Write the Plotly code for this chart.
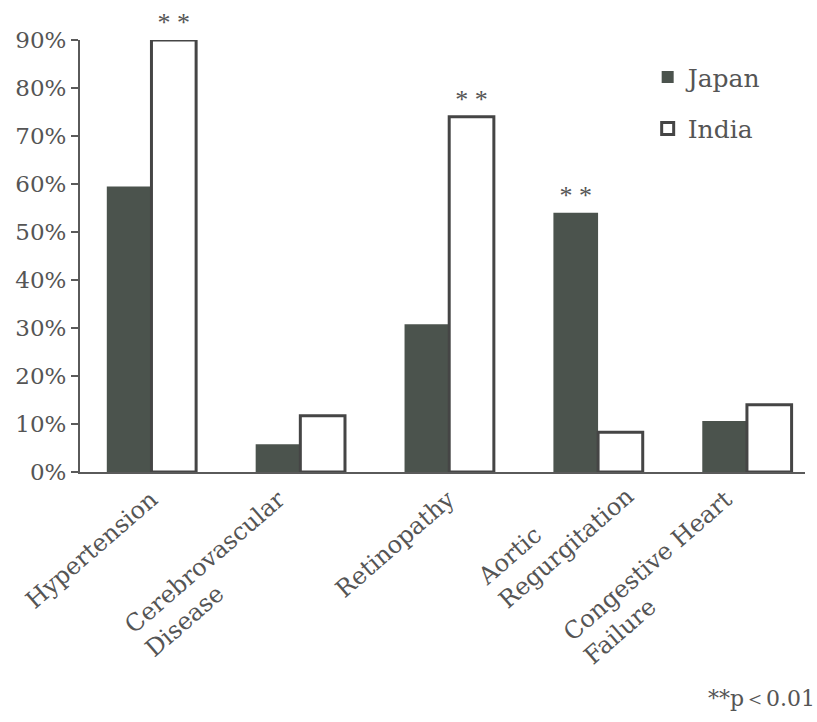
import plotly.graph_objects as go

# Complication rates by country
categories = ["Hypertension", "Cerebrovascular<br>Disease", "Retinopathy",
              "Aortic<br>Regurgitation", "Congestive Heart<br>Failure"]
japan = [59.5, 5.8, 30.8, 54.0, 10.6]
india = [90.0, 11.7, 74.0, 8.3, 14.0]

# significance markers drawn above the bars
japan_sig = ["", "", "", "* *", ""]
india_sig = ["* *", "", "* *", "", ""]

y_ticks = [0, 10, 20, 30, 40, 50, 60, 70, 80, 90]
y_ticktext = [f"{v}%" for v in y_ticks]

SERIF = "DejaVu Serif"
TEXT_GREY = "#555555"
AXIS_GREY = "#5a5a5a"
JAPAN_FILL = "#4b534d"
INDIA_LINE = "#454545"

# extra nudge (px) for labels that sit further along the slant
label_nudge = {3: (30, 26)}

fig = go.Figure()
fig.add_trace(go.Bar(
    x=categories, y=japan, name="Japan",
    marker=dict(color=JAPAN_FILL, line=dict(width=0)),
    text=japan_sig, textposition="outside", cliponaxis=False,
    constraintext="none",
    textfont=dict(family="Liberation Serif", size=26, color=TEXT_GREY),
    legendgroup="jp",
))
fig.add_trace(go.Bar(
    x=categories, y=india, name="India",
    marker=dict(color="white", line=dict(color=INDIA_LINE, width=3)),
    text=india_sig, textposition="outside", cliponaxis=False,
    constraintext="none",
    textfont=dict(family="Liberation Serif", size=26, color=TEXT_GREY),
    legendgroup="in",
))

# rotated category labels, left-aligned within each block
for i, label in enumerate(categories):
    dx, dy = label_nudge.get(i, (0, 0))
    fig.add_annotation(
        x=i, xref="x", y=0, yref="paper",
        text=label, showarrow=False, textangle=-41, align="left",
        xanchor="right", yanchor="top", xshift=14 + dx, yshift=-10 + dy,
        font=dict(family=SERIF, size=24, color=TEXT_GREY),
    )

fig.add_annotation(
    x=1, xref="paper", y=0, yref="paper",
    text="**p＜0.01", showarrow=False,
    xanchor="right", yanchor="middle", xshift=12, yshift=-226,
    font=dict(family=SERIF, size=22, color=TEXT_GREY),
)

fig.update_layout(
    width=817, height=722,
    margin=dict(l=80, r=12, t=40, b=250),
    paper_bgcolor="white", plot_bgcolor="white",
    barmode="group", bargap=0.4, bargroupgap=0,
    showlegend=True,
    legend=dict(
        x=0.783, y=0.967, xanchor="left", yanchor="top",
        font=dict(family=SERIF, size=25, color=TEXT_GREY),
        bgcolor="rgba(0,0,0,0)", traceorder="grouped", tracegroupgap=16,
    ),
    xaxis=dict(
        type="category", range=[-0.48, 4.39],
        showline=True, linecolor=AXIS_GREY, linewidth=2,
        ticks="", showticklabels=False, showgrid=False, zeroline=False,
    ),
    yaxis=dict(
        range=[0, 90], tickvals=y_ticks, ticktext=y_ticktext,
        showline=True, linecolor=AXIS_GREY, linewidth=2,
        ticks="outside", ticklen=7, tickwidth=2, tickcolor=AXIS_GREY,
        showgrid=False, zeroline=False,
        tickfont=dict(family=SERIF, size=23, color=TEXT_GREY),
    ),
)

fig.write_html("out.html")
